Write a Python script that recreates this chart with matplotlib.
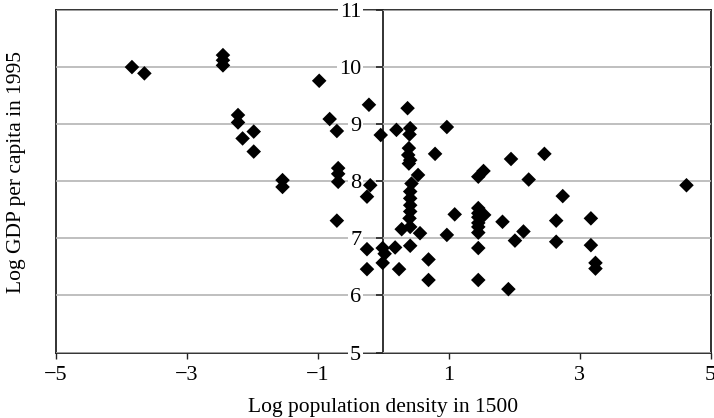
import matplotlib
matplotlib.use("Agg")
import matplotlib.pyplot as plt

plt.rcParams['font.family'] = ['Liberation Serif', 'DejaVu Serif']

# Log population density in 1500
density = [-3.84, -3.65, -2.45, -2.45, -2.45, -0.98, -0.22, -2.22, -2.22, -2.15,
           -1.98, -1.98, -0.82, -0.71, -0.04, -1.54, -1.54, -0.69, -0.69, -0.69,
           -0.20, -0.25, -0.71, -0.25, -0.25, -0.01, 0.02, -0.01,
           0.18, 0.24, 0.28, 0.41, 0.41, 0.56, 0.69, 0.69, 0.97, 1.09,
           1.45, 1.45, 1.45, 1.45, 1.45, 1.45, 1.45, 1.45, 1.54,
           1.82, 1.91, 2.01, 2.14, 2.64, 2.64, 2.74, 3.17, 3.17, 3.24, 3.24, 4.63,
           0.37, 0.20, 0.41, 0.40, 0.39, 0.38, 0.41, 0.39, 0.53, 0.43,
           0.41, 0.41, 0.41, 0.41, 0.40, 0.79, 0.97, 1.45, 1.53, 1.95, 2.22, 2.46]
# Log GDP per capita in 1995
gdp = [10.00, 9.89, 10.21, 10.12, 10.03, 9.76, 9.34, 9.16, 9.03, 8.75,
       8.87, 8.52, 9.09, 8.88, 8.81, 8.02, 7.90, 8.23, 8.13, 7.99,
       7.93, 7.73, 7.31, 6.81, 6.46, 6.83, 6.73, 6.57,
       6.84, 6.46, 7.16, 7.20, 6.87, 7.09, 6.63, 6.27, 7.06, 7.42,
       7.53, 7.44, 7.37, 7.27, 7.20, 7.10, 6.83, 6.27, 7.41,
       7.29, 6.11, 6.96, 7.12, 7.31, 6.94, 7.74, 7.35, 6.88, 6.57, 6.47, 7.93,
       9.28, 8.90, 8.93, 8.82, 8.58, 8.46, 8.37, 8.31, 8.11, 7.96,
       7.82, 7.70, 7.58, 7.47, 7.35, 8.48, 8.95, 8.08, 8.18, 8.39, 8.03, 8.48]

x_ticks = [-5, -3, -1, 1, 3, 5]
y_ticks = [5, 6, 7, 8, 9, 10, 11]

fig = plt.figure(figsize=(7.14, 4.18), dpi=100)
ax = fig.add_axes([56/714, 1 - 352.5/418, (710.7-56)/714, (352.5-10)/418])

ax.scatter(density, gdp, marker='D', s=55, color='black', edgecolors='none', zorder=3)

ax.set_xlim(-5, 5)
ax.set_ylim(5, 11)

ax.set_xticks(x_ticks)
ax.set_xticklabels([str(v).replace('-', '\u2212') for v in x_ticks])
ax.tick_params(axis='x', direction='out', length=4, width=1, labelsize=16, pad=6, color='#222222')

ax.set_yticks(y_ticks)
ax.set_yticklabels([str(v) for v in y_ticks])
ax.spines['left'].set_position(('data', 0))
ax.tick_params(axis='y', direction='out', length=5, width=1.2, labelsize=16, pad=11, color='#222222')
for lbl in ax.get_yticklabels():
    lbl.set_bbox(dict(facecolor='white', edgecolor='none', pad=1.5))

ax.yaxis.grid(True, color='#b4b4b4', linewidth=1.2)
ax.xaxis.grid(False)

for name in ['top', 'bottom', 'right', 'left']:
    ax.spines[name].set_color('#222222')
    ax.spines[name].set_linewidth(1.3)
    ax.spines[name].set_zorder(1)

ax.plot([0, 0], [0, 1], transform=ax.transAxes, color='#222222', lw=1.3, clip_on=False, zorder=1)

ax.set_xlabel('Log population density in 1500', fontsize=15.5, labelpad=9)
fig.text(17/714, 1 - 172/418, 'Log GDP per capita in 1995', rotation=90, fontsize=15.5,
         ha='center', va='center')

fig.savefig('out.png', dpi=100)
